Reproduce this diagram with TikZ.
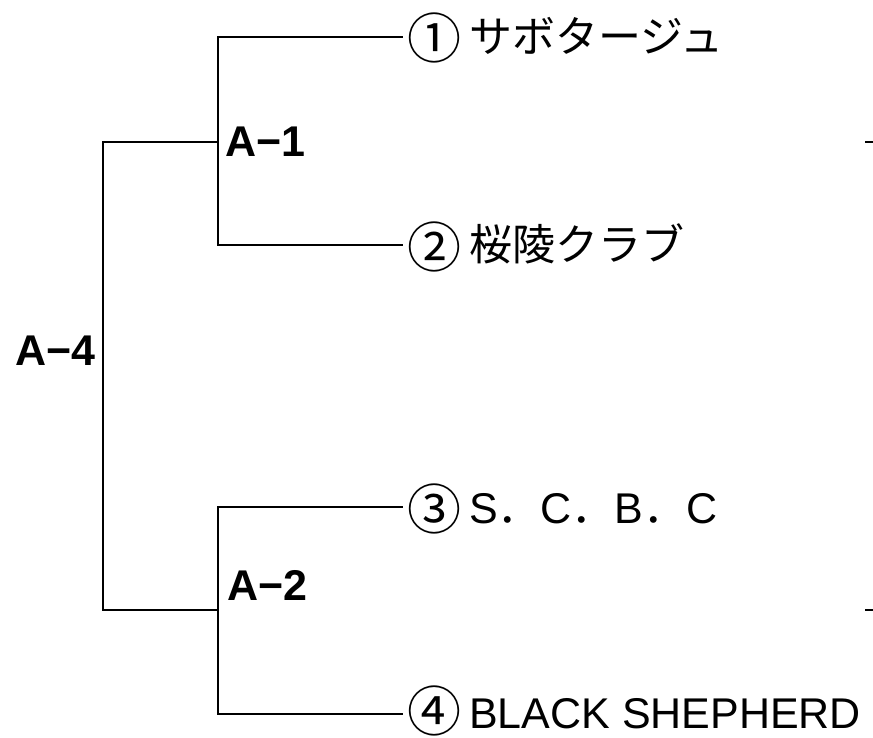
\documentclass[tikz,border=0pt]{standalone}
\usepackage{fontspec}
\setmainfont{Liberation Sans}
\newfontfamily\cjk{Noto Sans CJK JP}
\newcommand{\circnum}[2][-6pt]{\raisebox{#1}[32pt][8pt]{\cjk\fontsize{54}{54}\selectfont #2}}
\begin{document}
\begin{tikzpicture}[x=1pt,y=-1pt,
  bracket/.style={line width=2.6pt,line join=miter,line cap=rect},
  tick/.style={line width=2.6pt},
  roundlbl/.style={anchor=base west,inner sep=0pt,font=\bfseries\fontsize{43}{43}\selectfont},
  teamlbl/.style={anchor=base west,inner sep=0pt,font=\fontsize{43}{43}\selectfont}]
\useasboundingbox (0,0) rectangle (873,738);
% junctions
\coordinate (r4t) at (103,142);
\coordinate (r4b) at (103,610);
\coordinate (a1j) at (218,142);
\coordinate (a2j) at (218,610);
\coordinate (a1t) at (218,37);
\coordinate (a1b) at (218,245);
\coordinate (a2t) at (218,507);
\coordinate (a2b) at (218,714);
\coordinate (e1) at (402,37);
\coordinate (e2) at (402,245);
\coordinate (e3) at (402,507);
\coordinate (e4) at (402,714);
\coordinate (k1a) at (865,142);
\coordinate (k1b) at (873,142);
\coordinate (k2a) at (865,610);
\coordinate (k2b) at (873,610);
% labels
\node[roundlbl] (A4) at (15,365) {A−4};
\node[roundlbl] (A1) at (225,157) {A−1};
\node[roundlbl] (A2) at (227,600) {A−2};
\node[teamlbl] (t1) at (407,53) {\circnum{①}\hspace{8pt}{\cjk サボタージュ}};
\node[teamlbl] (t2) at (407,261) {\circnum{②}\hspace{8pt}{\cjk 桜陵クラブ}};
\node[teamlbl] (t3) at (407,523) {\circnum{③}\hspace{8pt}S{\cjk ．}C{\cjk ．}B{\cjk ．}C};
\node[teamlbl] (t4) at (407,728) {\circnum[-3pt]{④}\hspace{8pt}BLACK SHEPHERD};
% brackets
\draw[bracket] (e1) -- (a1t) -- (a1b) -- (e2);
\draw[bracket] (e3) -- (a2t) -- (a2b) -- (e4);
\draw[bracket] (a1j) -- (r4t) -- (r4b) -- (a2j);
\draw[tick] (k1a) -- (k1b);
\draw[tick] (k2a) -- (k2b);
\end{tikzpicture}
\end{document}
